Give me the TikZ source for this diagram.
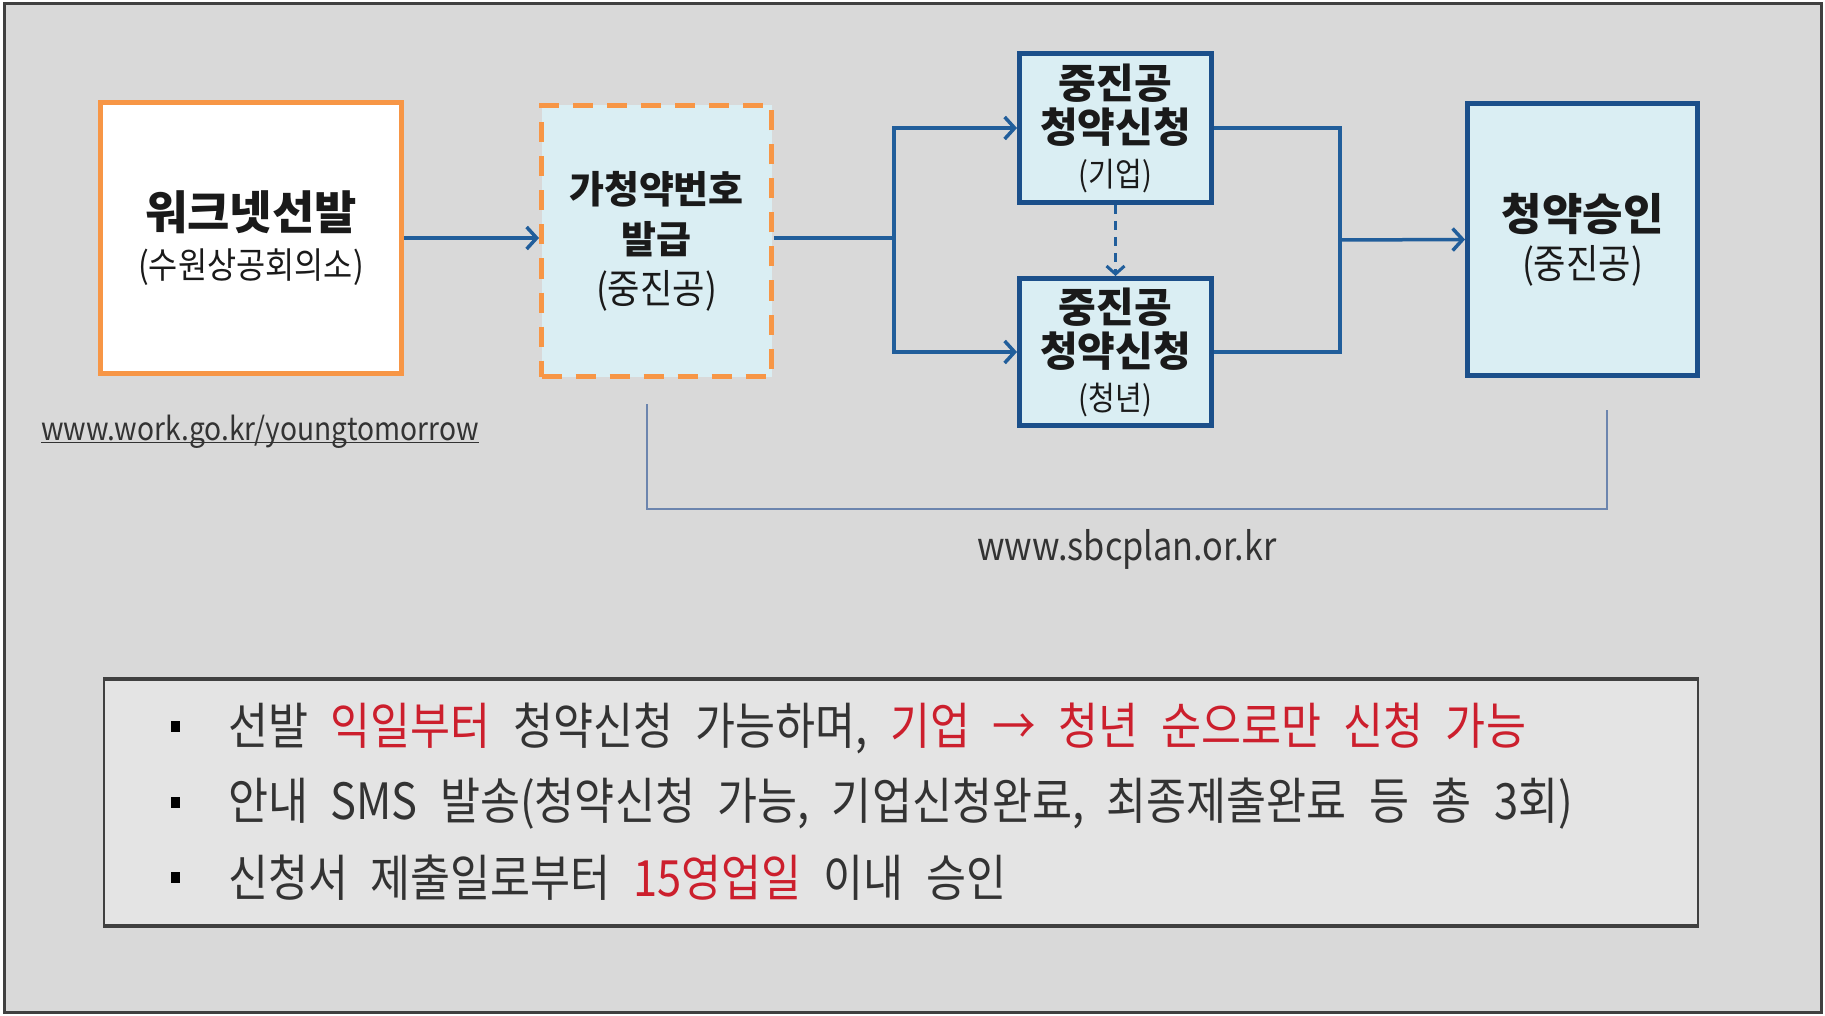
\documentclass[tikz,border=0pt]{standalone}
\usepackage{fontspec}
\usetikzlibrary{arrows.meta}
\newfontfamily\kr{Noto Sans CJK KR}[FakeStretch=0.88]
\newfontfamily\krt{Noto Sans CJK KR}
\newfontfamily\krw{Noto Sans CJK KR}[FakeStretch=0.87,WordSpace=2.3]
\definecolor{bggray}{HTML}{D9D9D9}
\definecolor{framegray}{HTML}{404040}
\definecolor{korange}{HTML}{F79646}
\definecolor{kfill}{HTML}{DAEEF3}
\definecolor{kblue}{HTML}{1B4F8A}
\definecolor{karrow}{HTML}{215E9B}
\definecolor{kbracket}{HTML}{6C85AE}
\definecolor{notefill}{HTML}{E4E4E4}
\definecolor{kred}{HTML}{CC1F2D}
\definecolor{ktext}{HTML}{1A1A1A}
\definecolor{kgraytext}{HTML}{333333}
\begin{document}
\begin{tikzpicture}[x=1pt,y=-1pt,
  orangebox/.style={draw=korange, line width=5pt, fill=white, inner sep=0pt, align=center, text=ktext},
  dashbox/.style={draw=korange, line width=5pt, fill=kfill, dash pattern=on 20pt off 14pt, inner sep=0pt, align=center, text=ktext},
  bluebox/.style={draw=kblue, line width=5pt, fill=kfill, inner sep=0pt, align=center, text=ktext},
  flow/.style={draw=karrow, line width=3.5pt},
  flowarrow/.style={flow, -{Straight Barb[length=10pt,width=22pt]}},
  bracketline/.style={draw=kbracket, line width=1.8pt},
  urltext/.style={text=kgraytext, inner sep=0pt},
  bullet/.style={fill=black, minimum width=9pt, minimum height=11pt, inner sep=0pt},
  bullettext/.style={anchor=west, inner sep=0pt, text=kgraytext, font=\krw\fontsize{50}{58}\selectfont}
]
\useasboundingbox (0,0) rectangle (1825,1016);
\fill[white] (0,0) rectangle (1825,1016);
\draw[framegray, line width=3pt, fill=bggray] (4,4) rectangle (1821,1012);

% boxes
\node[orangebox, minimum width=301pt, minimum height=271pt, font=\krt\bfseries\fontsize{46}{49}\selectfont] (b1) at (251,238)
  {워크넷선발\\{\kr\mdseries\fontsize{36}{49}\selectfont (수원상공회의소)}};
\node[dashbox, minimum width=230pt, minimum height=271pt, font=\krt\bfseries\fontsize{38}{50}\selectfont] (b2) at (656.5,241)
  {가청약번호\\발급\\{\kr\mdseries\fontsize{40}{50}\selectfont (중진공)}};
\node[bluebox, minimum width=192pt, minimum height=149pt, font=\krt\bfseries\fontsize{41}{44}\selectfont] (b3) at (1115.5,128)
  {중진공\\청약신청\\{\kr\mdseries\fontsize{33}{44}\selectfont (기업)}};
\node[bluebox, minimum width=192pt, minimum height=147pt, font=\krt\bfseries\fontsize{41}{44}\selectfont] (b4) at (1115.5,352)
  {중진공\\청약신청\\{\kr\mdseries\fontsize{33}{44}\selectfont (청년)}};
\node[bluebox, minimum width=230pt, minimum height=272pt, font=\krt\bfseries\fontsize{44}{48}\selectfont] (b5) at (1582.5,239.5)
  {청약승인\\{\kr\mdseries\fontsize{40}{48}\selectfont (중진공)}};

% connectors
\coordinate (j1) at (894,238);
\coordinate (j2) at (1340,240);
\draw[flowarrow] (b1.east) -- (b2.west |- b1.east);
\draw[flow] (b2.east |- j1) -- (j1);
\draw[flowarrow] (j1) |- (b3.west);
\draw[flowarrow] (j1) |- (b4.west);
\draw[flow] (b3.east) -| (j2);
\draw[flow] (b4.east) -| (j2);
\draw[flowarrow] (j2) -- (b5.west);
\draw[draw=karrow, line width=3pt, dash pattern=on 9pt off 7pt, -{Straight Barb[length=8pt,width=18pt]}] (b3.south) -- (b4.north);

% bracket
\coordinate (bl) at (647,404);
\coordinate (blc) at (647,509);
\coordinate (brc) at (1607,509);
\coordinate (br) at (1607,410);
\draw[bracketline] (bl) -- (blc) -- (brc) -- (br);

% urls
\node[urltext, anchor=west, font=\kr\fontsize{32}{38}\selectfont] (url1) at (41,429) {\underbar{www.work.go.kr/youngtomorrow}};
\node[urltext, font=\kr\fontsize{39}{46}\selectfont] (url2) at (1127,549) {www.sbcplan.or.kr};

% note box
\node[draw=framegray, line width=2pt, fill=notefill, minimum width=1594pt, minimum height=245pt, inner sep=0pt] (note) at (901,802.5) {};
\draw[framegray, line width=4pt] (note.north west) -- (note.north east);
\draw[framegray, line width=4pt] (note.south west) -- (note.south east);

\node[bullet] (m1) at (175,726) {};
\node[bullet] (m2) at (175,802) {};
\node[bullet] (m3) at (175,877) {};
\node[bullettext] (t1) at (228,728) {선발 {\color{kred}익일부터} 청약신청 가능하며, {\color{kred}기업 → 청년 순으로만 신청 가능}};
\node[bullettext] (t2) at (228,804) {안내 SMS 발송(청약신청 가능, 기업신청완료, 최종제출완료 등 총 3회)};
\node[bullettext] (t3) at (228,878) {신청서 제출일로부터 {\color{kred}15영업일} 이내 승인};
\end{tikzpicture}
\end{document}
